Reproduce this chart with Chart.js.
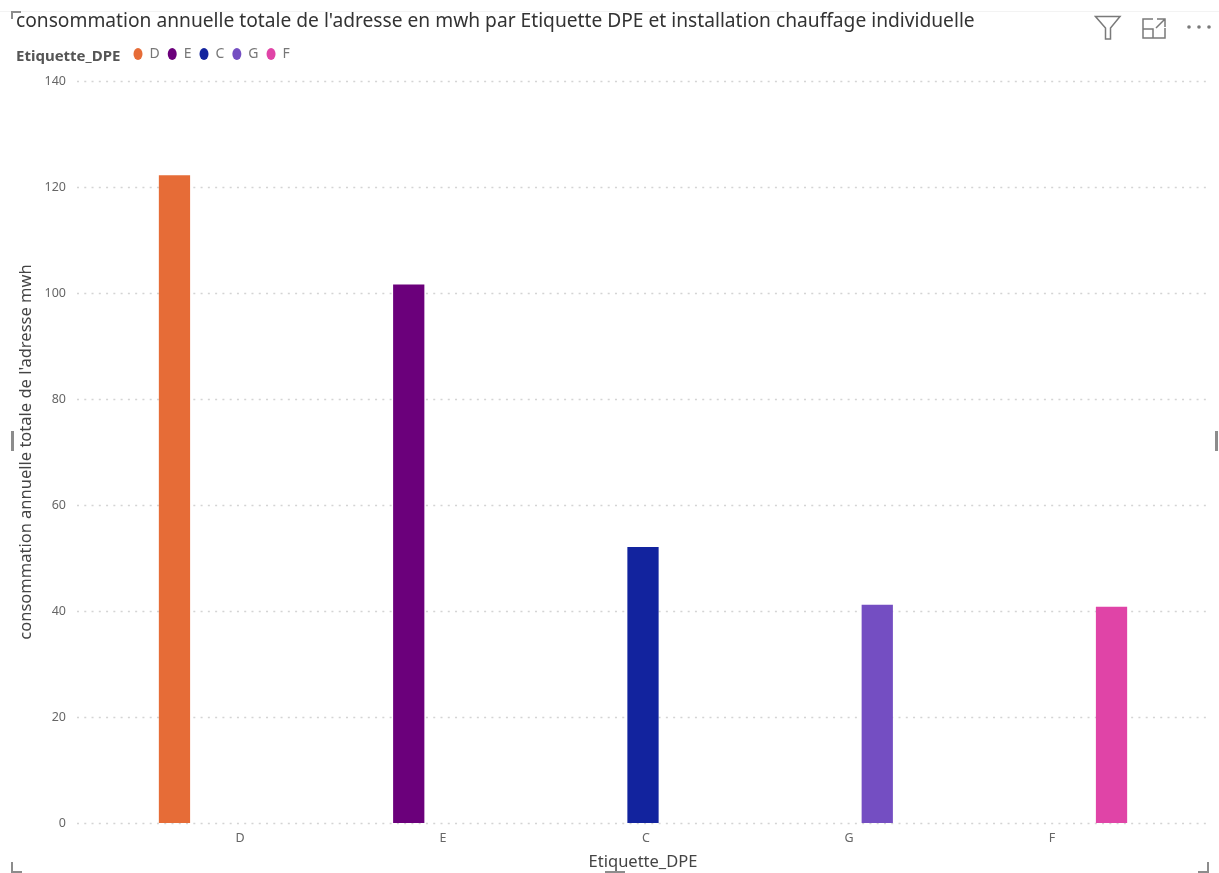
<!DOCTYPE html>
<html><head><meta charset="utf-8">
<style>
html,body{margin:0;padding:0;background:#fff;overflow:hidden}
#wrap{position:relative;width:1219px;height:873px}
canvas{position:absolute;left:0;top:0}
.m{position:absolute;background:#8c8c8c}
#lt{position:absolute;left:16px;top:46px;font:bold 15px "Noto Sans";color:#555;line-height:18px}
svg{position:absolute}
</style></head><body>
<div id="wrap">
<canvas id="c" width="1219" height="873"></canvas>
<div id="lt">Etiquette_DPE</div>
<div class="m" style="left:0;top:11px;width:1219px;height:1px;background:#f3f3f3"></div>
<div class="m" style="left:11px;top:11px;width:10px;height:2px"></div><div class="m" style="left:11px;top:11px;width:2px;height:8px"></div>
<div class="m" style="left:11px;top:431px;width:3px;height:20px"></div>
<div class="m" style="left:1215px;top:431px;width:3px;height:20px"></div>
<div class="m" style="left:11px;top:862px;width:2px;height:10px"></div><div class="m" style="left:11px;top:871px;width:11px;height:2px"></div>
<div class="m" style="left:1198px;top:871px;width:11px;height:2px"></div><div class="m" style="left:1207px;top:862px;width:2px;height:10px"></div>
<div class="m" style="left:605px;top:871px;width:20px;height:2px"></div>
<svg style="left:1094px;top:15px" width="28" height="26" viewBox="0 0 28 26" fill="none" stroke="#7a7a7a" stroke-width="1.5"><path d="M1.5 1.5H26L16.5 13V24H11.5V13Z"/></svg>
<svg style="left:1141px;top:17px" width="26" height="24" viewBox="0 0 26 24" fill="none" stroke="#7a7a7a" stroke-width="1.5"><path d="M12 2H2V21H24V11M2 12H12V21M16 2H24V10M24 2L15 11"/></svg>
<svg style="left:1184px;top:22px" width="30" height="10" viewBox="0 0 30 10" fill="#7a7a7a"><circle cx="5" cy="5" r="1.8"/><circle cx="15" cy="5" r="1.8"/><circle cx="25" cy="5" r="1.8"/></svg>
</div>
<script src="https://cdn.jsdelivr.net/npm/chart.js@4"></script>
<script>
const categories = ["D","E","C","G","F"];
const seriesD = [122.2,null,null,null,null];
const seriesE = [null,101.6,null,null,null];
const seriesC = [null,null,52.1,null,null];
const seriesG = [null,null,null,41.2,null];
const seriesF = [null,null,null,null,40.8];
const colors = {D:"#E66C37",E:"#6B007B",C:"#12239E",G:"#744EC2",F:"#E044A7"};
const titleText = "consommation annuelle totale de l'adresse en mwh par Etiquette DPE et installation chauffage individuelle";
const yTitle = "consommation annuelle totale de l'adresse mwh";
const xTitle = "Etiquette_DPE";
const FONT = '"Noto Sans"';

const gridExtend = {
  id:"gridExtend",
  beforeDatasetsDraw(chart){
    const y = chart.scales.y, ctx = chart.ctx;
    ctx.save();
    ctx.strokeStyle = "#d4d4d4"; ctx.lineWidth = 1.5; ctx.setLineDash([2,5.27]);
    y.ticks.forEach(t=>{
      const p = Math.round(y.getPixelForValue(t.value))+0.5;
      ctx.beginPath(); ctx.moveTo(77,p); ctx.lineTo(1209,p); ctx.stroke();
    });
    ctx.restore();
  },
  beforeDraw(chart){ chart.legend.left = 125.5; chart.legend.top = 39; }
};
const mk = (label,data)=>({label,data,backgroundColor:colors[label],borderWidth:0,barPercentage:1,categoryPercentage:0.77});
new Chart(document.getElementById("c"),{
  type:"bar",
  plugins:[gridExtend],
  data:{labels:categories,datasets:[mk("D",seriesD),mk("E",seriesE),mk("C",seriesC),mk("G",seriesG),mk("F",seriesF)]},
  options:{
    responsive:false,animation:false,devicePixelRatio:1,
    layout:{padding:{left:16,right:68.5,top:10.5,bottom:1}},
    plugins:{
      tooltip:{enabled:false},
      title:{display:true,text:titleText,align:"start",color:"#333",font:{family:FONT,size:19.2,weight:"normal"},padding:{top:0,bottom:15.5}},
      legend:{display:true,position:"top",align:"start",onClick:null,
        labels:{usePointStyle:true,pointStyle:"circle",boxWidth:9,boxHeight:8.5,pointStyleWidth:9,padding:8,color:"#777",font:{family:FONT,size:14}}}
    },
    scales:{
      x:{grid:{display:false},border:{display:false},
        afterFit(s){s.height=49;},
        ticks:{color:"#666",font:{family:FONT,size:12.5},padding:0,labelOffset:3,maxRotation:0},
        title:{display:true,text:xTitle,color:"#444",font:{family:FONT,size:16.5},padding:{top:4,bottom:0}}},
      y:{min:0,max:140,grid:{display:false},border:{display:false},
        afterFit(s){s.width=119.5;s.paddingTop=0;s.paddingBottom=0;},
        ticks:{stepSize:20,color:"#666",font:{family:FONT,size:12.5},padding:61.5},
        title:{display:true,text:yTitle,color:"#444",font:{family:FONT,size:16.5},padding:{top:0,bottom:0}}}
    }
  }
});
</script>
</body></html>
